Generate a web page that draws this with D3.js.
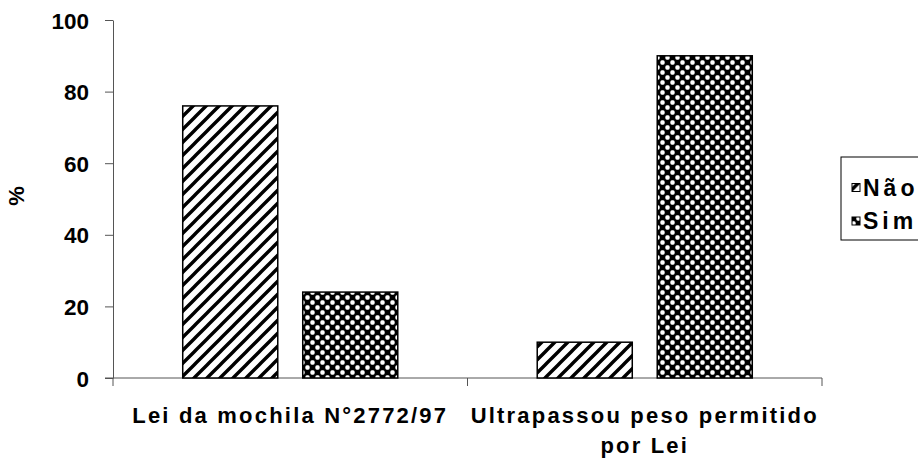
<!DOCTYPE html>
<html>
<head>
<meta charset="utf-8">
<script src="https://cdn.jsdelivr.net/npm/d3@7"></script>
<style>
  body { margin: 0; background: #fff; }
  text { font-family: "Liberation Sans", Arial, sans-serif; font-weight: bold; fill: #000; }
</style>
</head>
<body>
<svg id="chart" width="918" height="463"></svg>
<script>
// data
const categories = [["Lei da mochila N°2772/97"], ["Ultrapassou peso permitido", "por Lei"]];
const series = ["Não", "Sim"];
const naoValues = [76, 10];
const simValues = [24, 90];
const yTicks = [0, 20, 40, 60, 80, 100];

const svg = d3.select('#chart');
const plot = {left: 113, right: 822, top: 20, bottom: 378};

// fill patterns
const defs = svg.append('defs');
const stripes = defs.append('pattern')
    .attr('id', 'stripes')
    .attr('patternUnits', 'userSpaceOnUse')
    .attr('width', 13).attr('height', 13);
stripes.append('rect').attr('width', 13).attr('height', 13).attr('fill', '#fff');
stripes.append('path')
    .attr('d', 'M-3,16 L16,-3 M-9.5,9.5 L9.5,-9.5 M3.5,22.5 L22.5,3.5')
    .attr('stroke', '#000').attr('stroke-width', 3.4);

const checks = defs.append('pattern')
    .attr('id', 'checks')
    .attr('patternUnits', 'userSpaceOnUse')
    .attr('width', 10).attr('height', 10);
checks.append('rect').attr('width', 10).attr('height', 10).attr('fill', '#000');
checks.selectAll('rect.w')
    .data([[0, 0], [5, 5]])
    .enter().append('rect')
    .classed('w', true)
    .attr('x', d => d[0] + 0.3).attr('y', d => d[1] + 0.3)
    .attr('width', 4.4).attr('height', 4.4)
    .attr('rx', 1.6)
    .attr('fill', '#fff');

const fills = {"Não": 'url(#stripes)', "Sim": 'url(#checks)'};

// scales
const x0 = d3.scaleBand()
    .domain(d3.range(categories.length))
    .range([plot.left, plot.right]);
const x1 = d3.scaleBand()
    .domain(series)
    .range([0, x0.bandwidth()])
    .paddingInner(0.208)
    .paddingOuter(0.581);
const y = d3.scaleLinear().domain([0, 100]).range([plot.bottom, plot.top]);

// y axis
const yAxis = svg.append('g')
    .attr('transform', 'translate(' + plot.left + ',0)')
    .call(d3.axisLeft(y).tickValues(yTicks).tickSize(8).tickPadding(16).tickSizeOuter(0));
yAxis.select('.domain').attr('stroke', '#555');
yAxis.selectAll('.tick line').attr('stroke', '#555');
yAxis.selectAll('.tick text')
    .style('font-size', '22.5px')
    .attr('dy', '0.36em');

// x axis (ticks at category boundaries)
const xAxis = svg.append('g').attr('transform', 'translate(0,' + plot.bottom + ')');
xAxis.append('line')
    .attr('x1', plot.left - 8).attr('x2', plot.right)
    .attr('stroke', '#555');
xAxis.selectAll('line.tk')
    .data(d3.range(categories.length + 1))
    .enter().append('line')
    .classed('tk', true)
    .attr('x1', i => i < categories.length ? x0(i) : x0(i - 1) + x0.bandwidth())
    .attr('x2', i => i < categories.length ? x0(i) : x0(i - 1) + x0.bandwidth())
    .attr('y1', 0).attr('y2', 8)
    .attr('stroke', '#555');

// bars
const rows = series.map((s, si) => ({name: s, values: si === 0 ? naoValues : simValues}));
rows.forEach(row => {
  svg.append('g').selectAll('rect')
      .data(row.values)
      .enter().append('rect')
      .attr('x', (d, i) => x0(i) + x1(row.name))
      .attr('y', d => y(d))
      .attr('width', x1.bandwidth())
      .attr('height', d => y(0) - y(d))
      .attr('fill', fills[row.name])
      .attr('stroke', '#000')
      .attr('stroke-width', 1.5);
});

// category labels
const catLabels = svg.append('g');
categories.forEach((lines, i) => {
  const t = catLabels.append('text')
      .attr('text-anchor', 'middle')
      .style('font-size', '22px')
      .style('letter-spacing', '2.2px');
  lines.forEach((ln, li) => {
    t.append('tspan')
        .attr('x', x0(i) + x0.bandwidth() / 2)
        .attr('y', 423 + li * 30)
        .text(ln);
  });
});

// y label
svg.append('text')
    .attr('transform', 'translate(24,196) rotate(-90)')
    .attr('text-anchor', 'middle')
    .style('font-size', '22px')
    .text('%');

// legend
const legend = svg.append('g').attr('transform', 'translate(841,157)');
legend.append('rect')
    .attr('width', 120).attr('height', 83)
    .attr('fill', '#fff')
    .attr('stroke', '#000')
    .attr('stroke-width', 1);
const items = legend.selectAll('g.item')
    .data(series)
    .enter().append('g')
    .classed('item', true)
    .attr('transform', (d, i) => 'translate(0,' + (30.5 + i * 33.5) + ')');
items.append('rect')
    .attr('x', 11).attr('y', -4)
    .attr('width', 8).attr('height', 8)
    .attr('fill', d => fills[d])
    .attr('stroke', '#000');
items.append('text')
    .attr('x', 22).attr('y', 0)
    .attr('dy', '0.36em')
    .style('font-size', '23px')
    .style('letter-spacing', '4px')
    .text(d => d);
</script>
</body>
</html>
